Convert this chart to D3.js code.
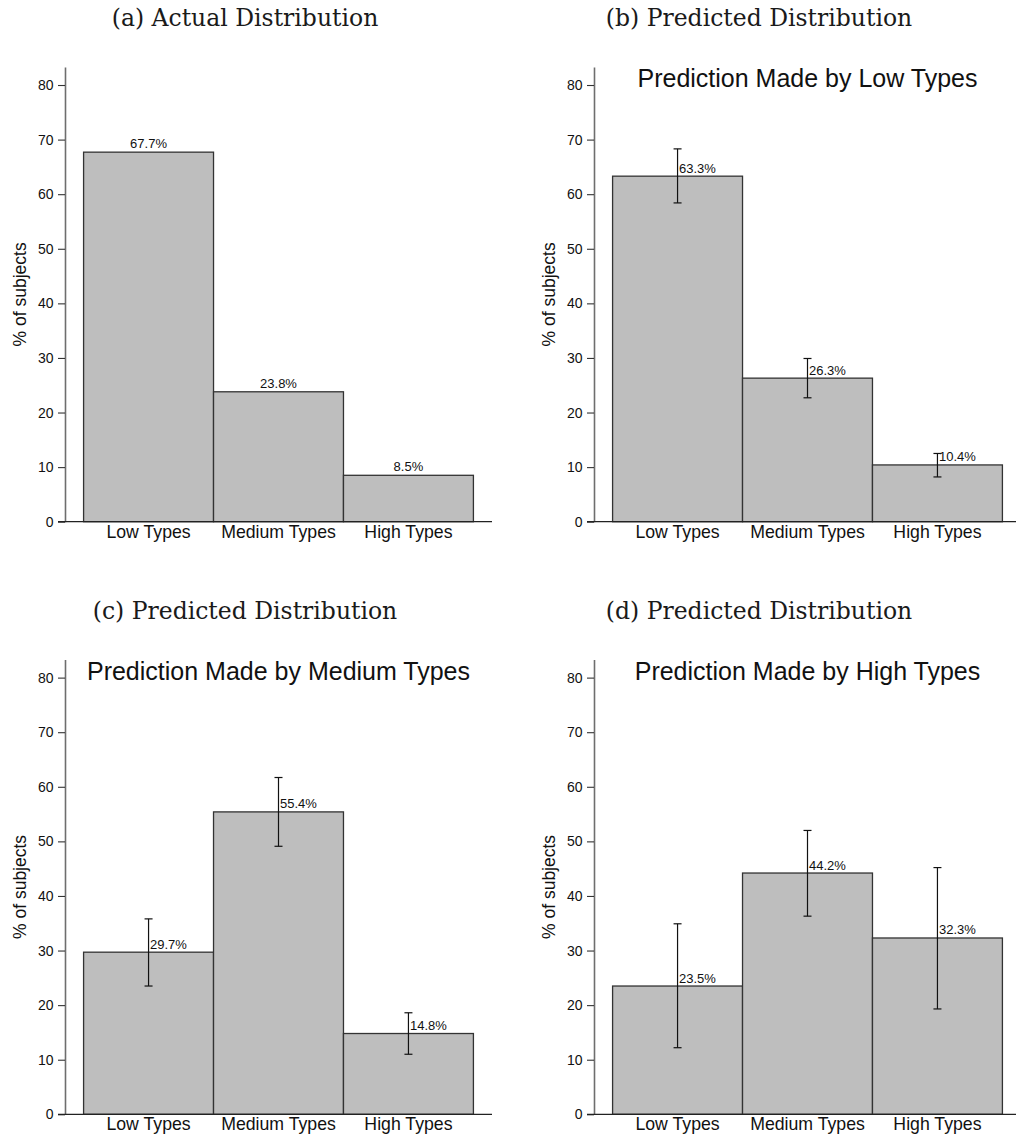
<!DOCTYPE html>
<html>
<head>
<meta charset="utf-8">
<script src="https://cdn.jsdelivr.net/npm/d3@7"></script>
<style>
  html, body { margin: 0; padding: 0; background: #fff; }
  svg { display: block; }
</style>
</head>
<body>
<svg id="chart" width="1016" height="1140"></svg>
<script>
// Categories and tick values
const categories = ["Low Types", "Medium Types", "High Types"];
const yTicks = [0, 10, 20, 30, 40, 50, 60, 70, 80];

// Panel captions and in-plot headings
const captions = [
  "(a) Actual Distribution",
  "(b) Predicted Distribution",
  "(c) Predicted Distribution",
  "(d) Predicted Distribution"
];
const headings = [
  "",
  "Prediction Made by Low Types",
  "Prediction Made by Medium Types",
  "Prediction Made by High Types"
];

// Shares (% of subjects)
const actualShares = [67.7, 23.8, 8.5];
const predByLow = [63.3, 26.3, 10.4];
const predByMedium = [29.7, 55.4, 14.8];
const predByHigh = [23.5, 44.2, 32.3];

// Confidence interval bounds for the predicted shares
const lowCiLower = [58.4, 22.7, 8.2];
const lowCiUpper = [68.3, 29.9, 12.5];
const mediumCiLower = [23.5, 49.1, 11.0];
const mediumCiUpper = [35.8, 61.7, 18.6];
const highCiLower = [12.2, 36.3, 19.3];
const highCiUpper = [34.9, 52.0, 45.2];

const panels = [
  { values: actualShares, lower: null, upper: null, dx: 0, dy: 0, capX: 245 },
  { values: predByLow, lower: lowCiLower, upper: lowCiUpper, dx: 529, dy: 0, capX: 759 - 529 },
  { values: predByMedium, lower: mediumCiLower, upper: mediumCiUpper, dx: 0, dy: 592.6, capX: 245 },
  { values: predByHigh, lower: highCiLower, upper: highCiUpper, dx: 529, dy: 592.6, capX: 759 - 529 }
];

const svg = d3.select("#chart");

// Shared geometry (panel-local coordinates)
const axisX = 65;          // y-axis position
const plotRight = 492;     // end of x-axis line
const zeroY = 521.7;       // baseline
const topY = 67;           // top of y-axis line
const yMax = 83.3;

const x = d3.scaleBand()
  .domain(categories)
  .range([axisX, plotRight])
  .paddingInner(0)
  .paddingOuter(0.143);

const y = d3.scaleLinear().domain([0, yMax]).range([zeroY, topY]);

const sans = "'Liberation Sans', Arial, Helvetica, sans-serif";

panels.forEach((p, i) => {
  const g = svg.append("g").attr("transform", `translate(${p.dx},${p.dy})`);

  // Sub-figure caption
  g.append("text")
    .attr("x", p.capX)
    .attr("y", 26)
    .attr("text-anchor", "middle")
    .attr("font-family", "'DejaVu Serif', serif")
    .attr("font-size", 23.5)
    .attr("fill", "#1a1a1a")
    .text(captions[i]);

  // Bars
  g.selectAll("rect.bar")
    .data(p.values)
    .join("rect")
    .attr("class", "bar")
    .attr("x", (d, j) => x(categories[j]))
    .attr("y", d => y(d))
    .attr("width", x.bandwidth())
    .attr("height", d => y(0) - y(d))
    .attr("fill", "#bebebe")
    .attr("stroke", "#333")
    .attr("stroke-width", 1.3);

  // Y axis
  const yAxis = g.append("g")
    .attr("transform", `translate(${axisX},0)`)
    .call(d3.axisLeft(y).tickValues(yTicks).tickSize(7).tickSizeOuter(0).tickPadding(4.5));
  yAxis.select(".domain").attr("stroke", "#6e6e6e").attr("stroke-width", 1.6);
  yAxis.selectAll(".tick line").attr("stroke", "#333").attr("stroke-width", 1.1);
  yAxis.selectAll(".tick text")
    .attr("font-family", sans)
    .attr("font-size", 14)
    .attr("fill", "#111");

  // X axis
  const xAxis = g.append("g")
    .attr("transform", `translate(0,${zeroY})`)
    .call(d3.axisBottom(x).tickSize(0).tickPadding(3.5));
  xAxis.select(".domain").remove();
  xAxis.append("line")
    .attr("x1", axisX - 7).attr("x2", plotRight)
    .attr("y1", 0).attr("y2", 0)
    .attr("stroke", "#222").attr("stroke-width", 1.3);
  xAxis.selectAll(".tick text")
    .attr("font-family", sans)
    .attr("font-size", 17.7)
    .attr("fill", "#111");

  // Y axis title
  g.append("text")
    .attr("transform", `translate(26,${(zeroY + topY) / 2}) rotate(-90)`)
    .attr("text-anchor", "middle")
    .attr("font-family", sans)
    .attr("font-size", 17.5)
    .attr("fill", "#111")
    .text("% of subjects");

  const cx = j => x(categories[j]) + x.bandwidth() / 2;

  if (p.lower) {
    // Heading inside the plot
    g.append("text")
      .attr("x", axisX + 213.5)
      .attr("y", 87)
      .attr("text-anchor", "middle")
      .attr("font-family", sans)
      .attr("font-size", 25)
      .attr("fill", "#111")
      .text(headings[i]);

    // Error bars
    const eb = g.selectAll("g.err")
      .data(p.values)
      .join("g")
      .attr("class", "err")
      .attr("stroke", "#111")
      .attr("stroke-width", 1.2);
    eb.append("line")
      .attr("x1", (d, j) => cx(j)).attr("x2", (d, j) => cx(j))
      .attr("y1", (d, j) => y(p.upper[j])).attr("y2", (d, j) => y(p.lower[j]));
    eb.append("line")
      .attr("x1", (d, j) => cx(j) - 4).attr("x2", (d, j) => cx(j) + 4)
      .attr("y1", (d, j) => y(p.upper[j])).attr("y2", (d, j) => y(p.upper[j]));
    eb.append("line")
      .attr("x1", (d, j) => cx(j) - 4).attr("x2", (d, j) => cx(j) + 4)
      .attr("y1", (d, j) => y(p.lower[j])).attr("y2", (d, j) => y(p.lower[j]));

    // Value labels to the right of the error bar
    g.selectAll("text.val")
      .data(p.values)
      .join("text")
      .attr("class", "val")
      .attr("x", (d, j) => cx(j) + 1.5)
      .attr("y", d => y(d) - 3.5)
      .attr("font-family", sans)
      .attr("font-size", 13)
      .attr("fill", "#111")
      .text(d => d.toFixed(1) + "%");
  } else {
    // Value labels centred above bars
    g.selectAll("text.val")
      .data(p.values)
      .join("text")
      .attr("class", "val")
      .attr("x", (d, j) => cx(j))
      .attr("y", d => y(d) - 4)
      .attr("text-anchor", "middle")
      .attr("font-family", sans)
      .attr("font-size", 13)
      .attr("fill", "#111")
      .text(d => d.toFixed(1) + "%");
  }
});
</script>
</body>
</html>
